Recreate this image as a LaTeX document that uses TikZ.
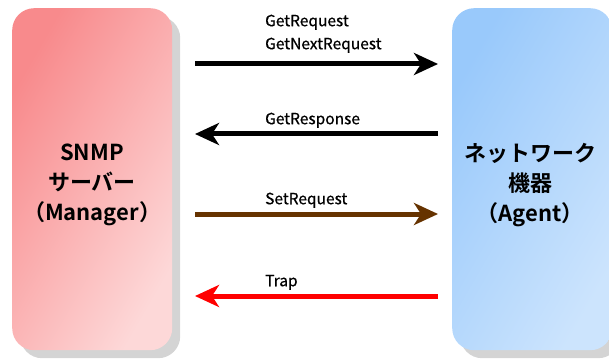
\documentclass[tikz,border=0pt]{standalone}
\usepackage{fontspec}
\setmainfont{Noto Sans CJK JP}
\newfontfamily\lblfont[FakeBold=0.6]{Noto Sans CJK JP}
\newfontfamily\panelfont{Noto Sans CJK JP Bold}
\usetikzlibrary{arrows.meta,shadows}
\definecolor{pinkA}{HTML}{F88A8C}
\definecolor{pinkB}{HTML}{FDD8D8}
\definecolor{blueA}{HTML}{99C9FB}
\definecolor{blueB}{HTML}{CCE4FD}
\definecolor{brownc}{HTML}{663300}
\definecolor{shadowc}{HTML}{D4D4D4}
\tikzset{
  panel/.style={rounded corners=22pt, minimum width=160pt, minimum height=342pt, inner sep=0pt,
     drop shadow={shadow xshift=8pt, shadow yshift=-8pt, fill=shadowc, opacity=1}},
  paneltext/.style={font=\panelfont\fontsize{22}{30}\selectfont, align=center, text=black},
  msg/.style={line width=5pt, -{Stealth[length=24pt,width=22pt,inset=7pt]}},
  lbl/.style={font=\lblfont\fontsize{15.5}{23}\selectfont, anchor=south west, align=left, inner sep=0pt}
}
\begin{document}
\begin{tikzpicture}[x=1pt,y=-1pt]
\useasboundingbox (0,0) rectangle (609,363);
\node[panel, left color=pinkA, right color=pinkB, shading angle=60, anchor=north west] (mgr) at (12,8) {};
\node[panel, left color=blueA, right color=blueB, shading angle=60, anchor=north west] (agt) at (452,8) {};
\node[paneltext] (mgrt) at (92,185) {SNMP\\サーバー\\（Manager）};
\node[paneltext] (agtt) at (530,185) {ネットワーク\\機器\\（Agent）};
\coordinate (l1) at (195,64); \coordinate (r1) at (438,64);
\coordinate (l2) at (195,134); \coordinate (r2) at (438,134);
\coordinate (l3) at (195,214); \coordinate (r3) at (438,214);
\coordinate (l4) at (195,296); \coordinate (r4) at (438,296);
\draw[msg, black] (l1) -- (r1);
\draw[msg, black] (r2) -- (l2);
\draw[msg, brownc] (l3) -- (r3);
\draw[msg, red] (r4) -- (l4);
\node[lbl] (t1) at (265,53) {GetRequest\\GetNextRequest};
\node[lbl] (t2) at (265,128) {GetResponse};
\node[lbl] (t3) at (265,208) {SetRequest};
\node[lbl] (t4) at (265,290) {Trap};
\end{tikzpicture}
\end{document}
